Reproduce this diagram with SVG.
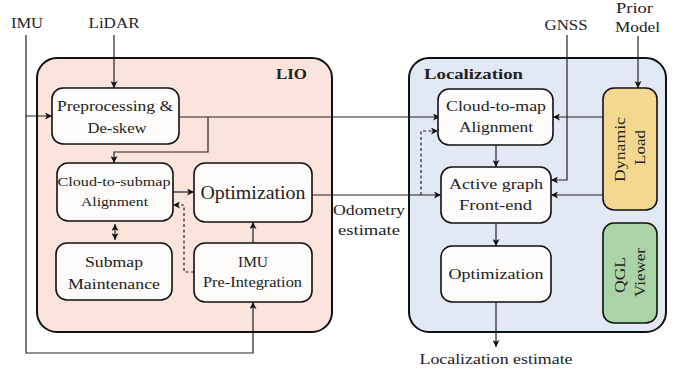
<svg xmlns="http://www.w3.org/2000/svg" width="686" height="372" viewBox="0 0 686 372">
<defs>
<marker id="ah" viewBox="0 0 10 10" refX="10" refY="5" markerWidth="7" markerHeight="7" markerUnits="userSpaceOnUse" orient="auto-start-reverse">
<path d="M0,0 L10,5 L0,10 L2.5,5 Z" fill="#111"/>
</marker>
</defs>
<style>
text{font-family:"Liberation Serif","DejaVu Serif",serif;fill:#222;text-anchor:middle}
.node{fill:#fdfbf9;stroke:#111;stroke-width:1.6}
.c{fill:none;stroke:#222;stroke-width:1.2}
.d{fill:none;stroke:#222;stroke-width:1.2;stroke-dasharray:3,2.5}
.a{marker-end:url(#ah)}
.t{font-size:15.5px}
.b{font-weight:bold;font-size:15.5px}
</style>
<rect width="686" height="372" fill="#fff"/>
<g id="lio">
<rect x="37" y="58" width="295" height="274" rx="20" fill="#fbe4dc" stroke="#111" stroke-width="2"/>
<text class="b" x="291.5" y="79" textLength="31" lengthAdjust="spacingAndGlyphs">LIO</text>
</g>
<g id="localization">
<rect x="409" y="58" width="257" height="274" rx="20" fill="#e3e9f4" stroke="#111" stroke-width="2"/>
<text class="b" x="473.5" y="79" textLength="99" lengthAdjust="spacingAndGlyphs">Localization</text>
</g>
<g id="connectors">
<path class="c a" d="M26,35 V116 H52"/>
<path class="c a" d="M26,116 V353 H253 V302"/>
<path class="c a" d="M114,35 V88"/>
<path class="c a" d="M179,117 H440"/>
<path class="c a" d="M208,117 V152 H114 V163"/>
<path class="c a" d="M173,192 H194"/>
<path class="d a" d="M194,272 H184 V205 H173"/>
<path class="c" d="M115,224 V240" marker-start="url(#ah)" marker-end="url(#ah)"/>
<path class="c a" d="M253,243 V222"/>
<path class="c a" d="M312,195 H441"/>
<path class="d a" d="M421,195 V131 H438"/>
<path class="c a" d="M496,145 V167"/>
<path class="c a" d="M496,223 V246"/>
<path class="c a" d="M496,302 V347"/>
<path class="c a" d="M567,35 V180 H551"/>
<path class="c a" d="M638,36 V88"/>
<path class="c a" d="M603,117 H553"/>
<path class="c a" d="M603,195 H551"/>
</g>
<g id="imu_in"><text class="t" x="27" y="28" textLength="32" lengthAdjust="spacingAndGlyphs">IMU</text></g>
<g id="lidar_in"><text class="t" x="114" y="28" textLength="51" lengthAdjust="spacingAndGlyphs">LiDAR</text></g>
<g id="gnss_in"><text class="t" x="566" y="30" textLength="43" lengthAdjust="spacingAndGlyphs">GNSS</text></g>
<g id="prior_in"><text class="t" x="634.5" y="13" textLength="37" lengthAdjust="spacingAndGlyphs">Prior</text><text class="t" x="637.5" y="32" textLength="45" lengthAdjust="spacingAndGlyphs">Model</text></g>
<g id="preproc">
<rect class="node" x="52" y="88" width="127" height="56" rx="11"/>
<text class="t" x="115" y="111" textLength="116" lengthAdjust="spacingAndGlyphs">Preprocessing &amp;</text>
<text class="t" x="117" y="133" textLength="59" lengthAdjust="spacingAndGlyphs">De-skew</text>
</g>
<g id="c2submap">
<rect class="node" x="57" y="163" width="116" height="58" rx="11"/>
<text x="114" y="186" style="font-size:13.5px" textLength="113" lengthAdjust="spacingAndGlyphs">Cloud-to-submap</text>
<text x="114.5" y="206" style="font-size:13.5px" textLength="67" lengthAdjust="spacingAndGlyphs">Alignment</text>
</g>
<g id="lio_opt">
<rect class="node" x="194" y="163" width="118" height="59" rx="11"/>
<text x="253" y="199" style="font-size:19px" textLength="105" lengthAdjust="spacingAndGlyphs">Optimization</text>
</g>
<g id="submap">
<rect class="node" x="56" y="243" width="116" height="57" rx="11"/>
<text class="t" x="114" y="267" textLength="58" lengthAdjust="spacingAndGlyphs">Submap</text>
<text class="t" x="114" y="289" textLength="92" lengthAdjust="spacingAndGlyphs">Maintenance</text>
</g>
<g id="imupre">
<rect class="node" x="194" y="243" width="118" height="59" rx="11"/>
<text x="253" y="267" style="font-size:14.5px" textLength="30" lengthAdjust="spacingAndGlyphs">IMU</text>
<text x="252.5" y="287" style="font-size:14.5px" textLength="99" lengthAdjust="spacingAndGlyphs">Pre-Integration</text>
</g>
<g id="odom_label">
<text class="t" x="369" y="215" textLength="72" lengthAdjust="spacingAndGlyphs">Odometry</text>
<text class="t" x="369" y="235" textLength="62" lengthAdjust="spacingAndGlyphs">estimate</text>
</g>
<g id="c2map">
<rect class="node" x="438" y="89" width="115" height="56" rx="11"/>
<text class="t" x="496" y="111" textLength="100" lengthAdjust="spacingAndGlyphs">Cloud-to-map</text>
<text class="t" x="496" y="132" textLength="74" lengthAdjust="spacingAndGlyphs">Alignment</text>
</g>
<g id="frontend">
<rect class="node" x="441" y="167" width="110" height="56" rx="11"/>
<text class="t" x="496" y="189" textLength="94" lengthAdjust="spacingAndGlyphs">Active graph</text>
<text class="t" x="495.5" y="210" textLength="73" lengthAdjust="spacingAndGlyphs">Front-end</text>
</g>
<g id="loc_opt">
<rect class="node" x="441" y="246" width="110" height="56" rx="11"/>
<text class="t" x="496" y="279" textLength="95" lengthAdjust="spacingAndGlyphs">Optimization</text>
</g>
<g id="loc_out"><text class="t" x="496" y="364" textLength="153" lengthAdjust="spacingAndGlyphs">Localization estimate</text></g>
<g id="dynload">
<rect x="603" y="88" width="54" height="122" rx="11" fill="#f3d98f" stroke="#111" stroke-width="1.6"/>
<text class="t" transform="translate(625,149.5) rotate(-90)" textLength="65" lengthAdjust="spacingAndGlyphs">Dynamic</text>
<text class="t" transform="translate(645,147.5) rotate(-90)" textLength="35" lengthAdjust="spacingAndGlyphs">Load</text>
</g>
<g id="qgl">
<rect x="603" y="223" width="54" height="100" rx="11" fill="#a9d4a7" stroke="#111" stroke-width="1.6"/>
<text class="t" transform="translate(625,275) rotate(-90)" textLength="36" lengthAdjust="spacingAndGlyphs">QGL</text>
<text class="t" transform="translate(645,272.5) rotate(-90)" textLength="49" lengthAdjust="spacingAndGlyphs">Viewer</text>
</g>
</svg>
